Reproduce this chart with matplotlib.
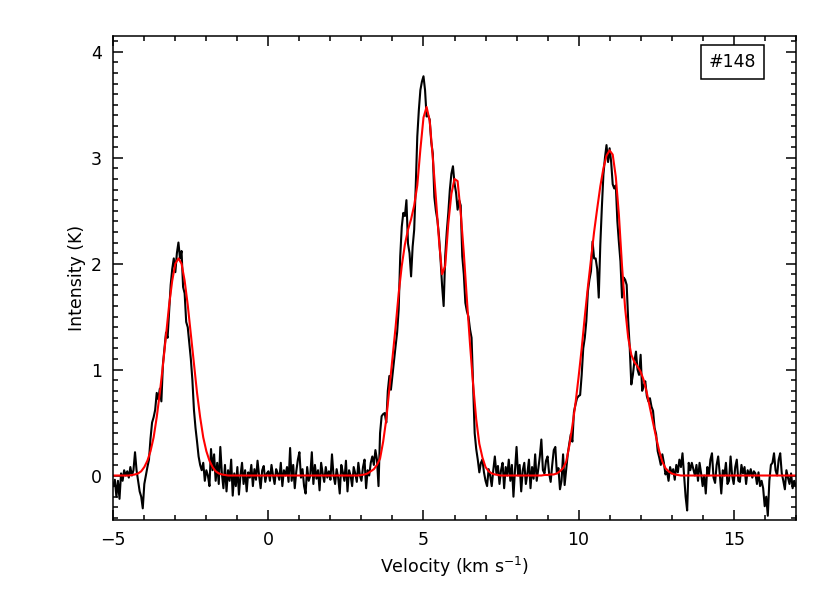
import numpy as np
import matplotlib
matplotlib.use('Agg')
from matplotlib import pyplot as plt
from matplotlib.ticker import MultipleLocator

# observed spectrum, one channel every 0.05 km/s from -5 to 17
vel = np.round(np.arange(441) * 0.05 - 5.0, 2)
spec = np.array([
    # -5.00 .. -4.05
    -0.10, -0.04, -0.20, -0.05, -0.22, 0.02, -0.05, 0.05, 0.00, 0.04,
    -0.02, 0.08, 0.00, 0.05, 0.22, 0.05, -0.05, -0.15, -0.20, -0.31,
    # -4.00 .. -3.05
    -0.08, 0.00, 0.08, 0.15, 0.35, 0.50, 0.55, 0.62, 0.78, 0.72,
    0.82, 0.70, 1.05, 1.20, 1.35, 1.30, 1.55, 1.80, 1.95, 2.05,
    # -3.00 .. -2.05
    1.92, 2.10, 2.20, 2.05, 2.12, 1.78, 1.72, 1.45, 1.40, 1.25,
    1.10, 0.90, 0.62, 0.45, 0.32, 0.18, 0.10, 0.05, 0.12, -0.05,
    # -2.00 .. -1.05
    0.05, 0.00, -0.10, 0.25, 0.05, 0.20, -0.05, 0.12, -0.08, 0.27,
    0.02, -0.12, 0.10, -0.15, 0.05, -0.05, 0.15, -0.19, 0.02, -0.10,
    # -1.00 .. -0.05
    0.08, -0.18, 0.00, 0.12, -0.08, 0.05, -0.15, 0.03, -0.02, 0.10,
    -0.10, 0.06, -0.04, 0.14, 0.00, -0.12, 0.05, 0.09, -0.06, 0.02,
    # 0.00 .. 0.95
    0.04, -0.05, 0.10, 0.00, -0.08, 0.06, 0.02, -0.04, 0.12, -0.10,
    0.05, 0.00, 0.08, -0.06, 0.26, -0.05, 0.10, -0.12, 0.04, 0.15,
    # 1.00 .. 1.95
    0.22, -0.02, 0.06, -0.10, -0.17, 0.08, -0.05, 0.00, 0.22, -0.08,
    0.10, -0.03, 0.05, -0.14, 0.12, 0.02, -0.06, 0.08, -0.02, 0.04,
    # 2.00 .. 2.95
    -0.04, 0.20, 0.00, -0.08, 0.06, -0.02, -0.17, 0.10, 0.03, -0.05,
    0.14, -0.15, 0.05, 0.00, -0.10, 0.08, 0.02, -0.06, 0.12, 0.00,
    # 3.00 .. 3.95
    -0.05, 0.08, 0.15, -0.12, 0.05, 0.00, 0.12, 0.18, 0.10, 0.24,
    0.15, -0.10, 0.40, 0.56, 0.58, 0.59, 0.50, 0.80, 0.94, 0.81,
    # 4.00 .. 4.95
    0.95, 1.09, 1.22, 1.35, 1.57, 2.07, 2.35, 2.48, 2.45, 2.60,
    2.19, 2.10, 1.88, 2.16, 2.32, 2.73, 3.20, 3.45, 3.64, 3.72,
    # 5.00 .. 5.95
    3.77, 3.64, 3.39, 3.40, 3.36, 3.15, 3.04, 2.63, 2.50, 2.41,
    2.26, 2.04, 1.79, 1.60, 2.07, 2.30, 2.48, 2.70, 2.85, 2.92,
    # 6.00 .. 6.95
    2.76, 2.67, 2.51, 2.60, 2.55, 2.07, 1.90, 1.63, 1.55, 1.50,
    1.38, 1.30, 0.84, 0.40, 0.25, 0.15, 0.03, 0.12, 0.15, 0.03,
    # 7.00 .. 7.95
    -0.05, -0.10, 0.06, 0.00, -0.10, 0.05, 0.18, 0.02, 0.09, -0.08,
    0.05, 0.12, -0.12, 0.08, 0.00, 0.15, -0.05, 0.10, -0.20, 0.05,
    # 8.00 .. 8.95
    0.27, 0.00, 0.10, -0.15, 0.05, 0.12, -0.08, 0.02, 0.15, -0.12,
    0.08, -0.03, 0.20, -0.05, 0.06, 0.18, 0.34, 0.05, 0.02, 0.14,
    # 9.00 .. 9.95
    0.18, 0.02, -0.06, 0.10, 0.24, 0.27, 0.02, 0.07, -0.13, -0.05,
    0.20, -0.09, 0.05, 0.20, 0.30, 0.39, 0.32, 0.60, 0.67, 0.73,
    # 10.00 .. 10.95
    0.75, 0.76, 0.95, 1.20, 1.30, 1.46, 1.74, 1.85, 1.93, 2.21,
    2.05, 2.05, 1.95, 1.68, 2.18, 2.53, 2.84, 3.00, 3.12, 2.96,
    # 11.00 .. 11.95
    3.09, 2.96, 2.75, 2.71, 2.74, 2.40, 2.20, 2.02, 1.68, 1.87,
    1.85, 1.80, 1.46, 1.20, 0.86, 0.95, 1.08, 1.17, 1.00, 0.95,
    # 12.00 .. 12.95
    1.14, 0.80, 0.85, 0.89, 0.75, 0.70, 0.73, 0.65, 0.61, 0.45,
    0.39, 0.23, 0.17, 0.10, 0.20, 0.12, 0.01, 0.04, -0.05, 0.08,
    # 13.00 .. 13.95
    0.02, 0.06, -0.04, 0.10, 0.03, 0.15, 0.08, 0.21, 0.00, -0.20,
    -0.33, 0.12, 0.05, 0.12, 0.06, 0.00, 0.10, -0.05, 0.12, 0.02,
    # 14.00 .. 14.95
    -0.10, 0.00, -0.17, 0.08, 0.00, 0.15, 0.21, -0.02, -0.07, 0.10,
    0.18, 0.02, -0.17, 0.05, 0.00, 0.12, -0.08, -0.05, 0.18, 0.00,
    # 15.00 .. 15.95
    -0.08, 0.08, 0.15, -0.05, -0.06, 0.10, 0.02, 0.08, -0.08, 0.05,
    0.00, 0.06, -0.02, 0.04, 0.02, -0.08, 0.03, -0.10, -0.05, -0.12,
    # 16.00 .. 16.95
    -0.29, -0.20, -0.38, -0.05, 0.10, 0.12, 0.21, 0.05, 0.00, 0.15,
    0.21, 0.02, -0.05, -0.13, 0.05, -0.02, -0.08, 0.02, -0.12, -0.05,
    # 17.00
    -0.10,
])

# fitted profile, sampled every 0.1 km/s
fit_vel = np.round(np.arange(221) * 0.1 - 5.0, 1)
fit = np.array([
    0.00, 0.00, 0.00, 0.00, 0.00, 0.00, 0.005, 0.01, 0.02, 0.04,   # -5.0
    0.08, 0.14, 0.23, 0.36, 0.55, 0.78, 1.04, 1.33, 1.61, 1.84,    # -4.0
    2.00, 2.05, 2.00, 1.84, 1.61, 1.33, 1.04, 0.78, 0.55, 0.36,    # -3.0
    0.23, 0.14, 0.08, 0.04, 0.02, 0.01, 0.005, 0.00, 0.00, 0.00,   # -2.0
    0.00, 0.00, 0.00, 0.00, 0.00, 0.00, 0.00, 0.00, 0.00, 0.00,    # -1.0
    0.00, 0.00, 0.00, 0.00, 0.00, 0.00, 0.00, 0.00, 0.00, 0.00,    # 0.0
    0.00, 0.00, 0.00, 0.00, 0.00, 0.00, 0.00, 0.00, 0.00, 0.00,    # 1.0
    0.00, 0.00, 0.00, 0.00, 0.00, 0.00, 0.00, 0.00, 0.00, 0.00,    # 2.0
    0.005, 0.01, 0.02, 0.04, 0.06, 0.10, 0.16, 0.32, 0.53, 0.82,   # 3.0
    1.10, 1.40, 1.72, 1.98, 2.18, 2.32, 2.42, 2.55, 2.74, 3.08,    # 4.0
    3.38, 3.48, 3.35, 3.00, 2.62, 2.22, 1.90, 1.98, 2.38, 2.66,    # 5.0
    2.80, 2.78, 2.48, 2.10, 1.66, 1.24, 0.86, 0.53, 0.30, 0.17,    # 6.0
    0.08, 0.04, 0.02, 0.01, 0.005, 0.00, 0.00, 0.00, 0.00, 0.00,   # 7.0
    0.00, 0.00, 0.00, 0.00, 0.00, 0.00, 0.00, 0.00, 0.00, 0.005,   # 8.0
    0.005, 0.01, 0.01, 0.02, 0.04, 0.07, 0.13, 0.28, 0.47, 0.68,   # 9.0
    0.93, 1.20, 1.50, 1.78, 2.04, 2.30, 2.52, 2.73, 2.90, 3.02,    # 10.0
    3.07, 3.03, 2.82, 2.46, 1.98, 1.58, 1.30, 1.14, 1.07, 1.03,    # 11.0
    0.98, 0.90, 0.78, 0.64, 0.50, 0.36, 0.23, 0.13, 0.07, 0.04,    # 12.0
    0.02, 0.01, 0.005, 0.00, 0.00, 0.00, 0.00, 0.00, 0.00, 0.00,   # 13.0
    0.00, 0.00, 0.00, 0.00, 0.00, 0.00, 0.00, 0.00, 0.00, 0.00,    # 14.0
    0.00, 0.00, 0.00, 0.00, 0.00, 0.00, 0.00, 0.00, 0.00, 0.00,    # 15.0
    0.00, 0.00, 0.00, 0.00, 0.00, 0.00, 0.00, 0.00, 0.00, 0.00,    # 16.0
    0.00,                                                          # 17.0
])

label = '#148'

plt.rcParams['font.family'] = ['DejaVu Sans']
fig = plt.figure(figsize=(8.3, 5.93), dpi=100)
ax = fig.add_axes([0.1365, 0.1231, 0.8222, 0.8162])

ax.plot(vel, spec, color='black', lw=1.5)
ax.plot(fit_vel, fit, color='#ff0000', lw=1.5)

ax.set_xlim(-5, 17)
ax.set_ylim(-0.42, 4.15)
ax.xaxis.set_major_locator(MultipleLocator(5))
ax.xaxis.set_minor_locator(MultipleLocator(1))
ax.yaxis.set_major_locator(MultipleLocator(1))
ax.yaxis.set_minor_locator(MultipleLocator(0.1))
ax.tick_params(which='both', direction='in', top=True, right=True,
               width=1.1, labelsize=12.5, color='black')
ax.tick_params(which='major', length=7, pad=8)
ax.tick_params(which='minor', length=3.8)
for s in ax.spines.values():
    s.set_linewidth(1.1)

ax.set_xlabel('Velocity (km s$^{-1}$)', fontsize=12.5, labelpad=4)
ax.set_ylabel('Intensity (K)', fontsize=12.5, labelpad=4)

ax.text(0.907, 0.946, label, transform=ax.transAxes, fontsize=12.5,
        ha='center', va='center',
        bbox=dict(boxstyle='square,pad=0.45', fc='white', ec='black', lw=1.1))

fig.savefig('out.png', dpi=100)
